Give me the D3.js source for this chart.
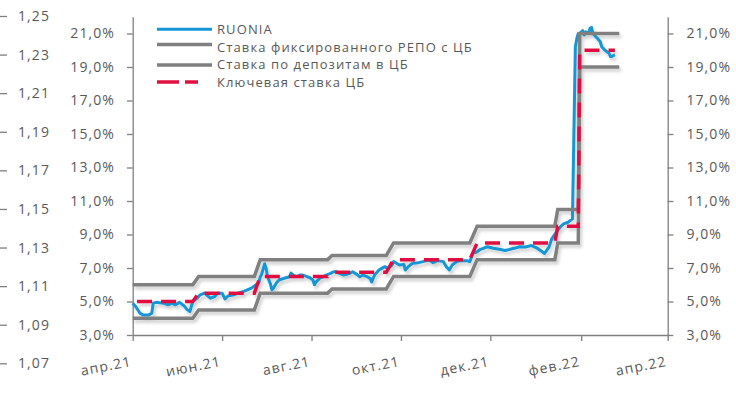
<!DOCTYPE html>
<html>
<head>
<meta charset="utf-8">
<script src="https://cdn.jsdelivr.net/npm/d3@7"></script>
<style>
  body { margin: 0; background: #fff; }
  svg text { font-family: "Open Sans", sans-serif; fill: #595959; }
</style>
</head>
<body>
<svg id="chart" width="736" height="409"></svg>
<script>
// ---- data ----
const ruoniaDates = ['2021-04-01','2021-04-03','2021-04-06','2021-04-08','2021-04-12','2021-04-14','2021-04-15','2021-04-17','2021-04-22','2021-04-25',
  '2021-04-28','2021-04-30','2021-05-03','2021-05-06','2021-05-08','2021-05-10','2021-05-11','2021-05-12','2021-05-15','2021-05-17',
  '2021-05-20','2021-05-24','2021-05-27','2021-05-29','2021-06-01','2021-06-03','2021-06-05','2021-06-09','2021-06-12','2021-06-15',
  '2021-06-19','2021-06-21','2021-06-23','2021-06-26','2021-06-27','2021-06-28','2021-06-29','2021-06-30','2021-07-01','2021-07-02',
  '2021-07-04','2021-07-05','2021-07-06','2021-07-08','2021-07-10','2021-07-14','2021-07-17','2021-07-18','2021-07-20','2021-07-22',
  '2021-07-24','2021-07-26','2021-07-29','2021-07-31','2021-08-02','2021-08-03','2021-08-04','2021-08-07','2021-08-09','2021-08-11',
  '2021-08-14','2021-08-16','2021-08-18','2021-08-20','2021-08-23','2021-08-25','2021-08-27','2021-08-29','2021-09-01','2021-09-03',
  '2021-09-05','2021-09-08','2021-09-10','2021-09-11','2021-09-13','2021-09-16','2021-09-18','2021-09-20','2021-09-22','2021-09-25',
  '2021-09-26','2021-09-28','2021-09-30','2021-10-03','2021-10-04','2021-10-06','2021-10-09','2021-10-13','2021-10-16','2021-10-20',
  '2021-10-23','2021-10-26','2021-10-30','2021-11-01','2021-11-03','2021-11-05','2021-11-08','2021-11-11','2021-11-15','2021-11-17',
  '2021-11-19','2021-11-22','2021-11-24','2021-11-29','2021-12-03','2021-12-08','2021-12-11','2021-12-14','2021-12-18','2021-12-21',
  '2021-12-25','2021-12-29','2022-01-02','2022-01-05','2022-01-07','2022-01-10','2022-01-12','2022-01-15','2022-01-18','2022-01-20',
  '2022-01-23','2022-01-26','2022-01-27','2022-01-28','2022-01-29','2022-01-30','2022-01-31','2022-02-02','2022-02-03','2022-02-04',
  '2022-02-06','2022-02-07','2022-02-08','2022-02-09','2022-02-11','2022-02-12','2022-02-14','2022-02-15','2022-02-17','2022-02-20',
  '2022-02-21','2022-02-24'];
const ruoniaValues = [4.9,4.7,4.3,4.2,4.2,4.3,4.9,4.95,4.9,4.8,
  4.9,4.8,4.95,4.75,4.53,4.4,4.7,5.0,5.2,5.4,
  5.5,5.2,5.3,5.5,5.5,5.15,5.33,5.4,5.5,5.58,
  5.73,5.8,5.93,6.12,6.45,6.64,6.94,7.25,6.98,6.48,
  6.04,5.7,5.79,6.1,6.3,6.4,6.48,6.7,6.55,6.48,
  6.58,6.58,6.48,6.42,6.28,6.0,6.16,6.42,6.48,6.58,
  6.68,6.78,6.78,6.68,6.58,6.62,6.68,6.78,6.62,6.48,
  6.58,6.48,6.38,6.16,6.58,6.88,6.98,7.08,6.98,7.18,
  7.38,7.28,7.18,7.21,6.88,7.08,7.28,7.32,7.38,7.48,
  7.32,7.44,7.38,7.08,6.88,7.18,7.38,7.44,7.44,7.38,
  7.88,7.97,8.1,8.27,8.18,8.1,8.05,8.1,8.19,8.27,
  8.25,8.34,8.18,8.0,7.87,8.25,8.76,9.15,9.48,9.63,
  9.73,9.93,15.0,20.2,20.7,21.0,21.0,21.17,20.91,21.1,
  21.0,21.3,21.37,21.0,20.81,20.71,20.51,20.21,20.01,19.82,
  19.61,19.72];

// policy rate steps: last day of old level -> first day of new level
const stepFrom = ['2021-05-12','2021-06-23','2021-08-12','2021-09-21','2021-11-17','2022-01-14','2022-01-30'];
const stepTo   = ['2021-05-16','2021-06-27','2021-08-15','2021-09-26','2021-11-22','2022-01-16','2022-01-31'];
const repoRates    = [6.0, 6.5, 7.5, 7.75, 8.5, 9.5, 10.5, 21.0];
const depositRates = [4.0, 4.5, 5.5, 5.75, 6.5, 7.5, 8.5, 19.0];
const keyRates     = [5.0, 5.5, 6.5, 6.75, 7.5, 8.5, 9.5, 20.0];
const corridorStart = '2021-04-01', corridorEnd = '2022-02-27';
const keyStart = '2021-04-04', keyEnd = '2022-02-24';

const monthsRu = ['янв','фев','мар','апр','май','июн','июл','авг','сен','окт','ноя','дек'];
const xTicks = ['2021-04-01','2021-06-01','2021-08-01','2021-10-01','2021-12-01','2022-02-01','2022-04-01'];
const yTicks = [3,5,7,9,11,13,15,17,19,21];
const farTicks = [1.07,1.09,1.11,1.13,1.15,1.17,1.19,1.21,1.23,1.25];

const legendNames = ['RUONIA','Ставка фиксированного РЕПО с ЦБ','Ставка по депозитам в ЦБ','Ключевая  ставка ЦБ'];
const colors = { ruonia: '#1696d4', grey: '#808080', key: '#e0103f' };

// ---- setup ----
const parse = d3.timeParse('%Y-%m-%d');
const svg = d3.select('#chart');

const x = d3.scaleTime()
  .domain([parse('2021-04-01'), parse('2022-04-01')])
  .range([132.7, 667.7]);
const y = d3.scaleLinear().domain([3, 22]).range([335, 16.75]);
const yFar = d3.scaleLinear().domain([1.07, 1.25]).range([363.3, 16]);

const pct = d => d3.format('.1f')(d).replace('.', ',') + '%';

const defs = svg.append('defs');
const f = defs.append('filter').attr('id', 'shadow')
  .attr('x', '-5%').attr('y', '-20%').attr('width', '115%').attr('height', '150%');
f.append('feDropShadow').attr('dx', 2).attr('dy', 3).attr('stdDeviation', 1.8)
  .attr('flood-color', '#000').attr('flood-opacity', 0.18);

// leftover axis at far left
const farAxis = svg.append('g')
  .call(d3.axisRight(yFar).tickValues(farTicks).tickSize(7).tickPadding(11)
    .tickFormat(d => d3.format('.2f')(d).replace('.', ',')));
farAxis.select('.domain').remove();

function styleAxis(g) {
  g.select('.domain').attr('stroke', '#7f7f7f').attr('stroke-width', 1.3);
  g.selectAll('.tick line').attr('stroke', '#7f7f7f').attr('stroke-width', 1.3);
  g.selectAll('text').style('font-size', '14px').style('letter-spacing', '1.1px').attr('fill', '#595959');
}
styleAxis(farAxis);

// y axes
const yLeft = svg.append('g').attr('transform', 'translate(132.7,0)')
  .call(d3.axisLeft(y).tickValues(yTicks).tickSize(5.7).tickSizeOuter(0).tickPadding(12).tickFormat(pct));
styleAxis(yLeft);
const yRight = svg.append('g').attr('transform', 'translate(667.7,0)')
  .call(d3.axisRight(y).tickValues(yTicks).tickSize(5.7).tickSizeOuter(0).tickPadding(13).tickFormat(pct));
styleAxis(yRight);

// x axis
const xAxis = svg.append('g').attr('transform', 'translate(0,335)')
  .call(d3.axisBottom(x).tickValues(xTicks.map(parse)).tickSize(6).tickSizeOuter(0)
    .tickFormat(d => monthsRu[d.getMonth()] + '.' + d3.timeFormat('%y')(d)));
styleAxis(xAxis);
xAxis.selectAll('text')
  .attr('text-anchor', 'end').attr('dy', 0)
  .attr('x', -6.9).attr('y', 30.2)
  .attr('transform', 'rotate(-11)');

// series
function stepSeries(rates, start, end) {
  const pts = [[parse(start), rates[0]]];
  stepFrom.forEach((d, i) => {
    pts.push([parse(d), rates[i]]);
    pts.push([parse(stepTo[i]), rates[i + 1]]);
  });
  pts.push([parse(end), rates[rates.length - 1]]);
  return pts;
}
const line = d3.line().x(d => x(d[0])).y(d => y(d[1]));
const plot = svg.append('g').attr('filter', 'url(#shadow)').attr('fill', 'none');

const ruonia = ruoniaDates.map((d, i) => [parse(d), ruoniaValues[i]]);
plot.append('path').datum(ruonia).attr('d', line)
  .attr('stroke', colors.ruonia).attr('stroke-width', 3).attr('stroke-linejoin', 'round');
plot.append('path').datum(stepSeries(repoRates, corridorStart, corridorEnd)).attr('d', line)
  .attr('stroke', colors.grey).attr('stroke-width', 3.5);
plot.append('path').datum(stepSeries(depositRates, corridorStart, corridorEnd)).attr('d', line)
  .attr('stroke', colors.grey).attr('stroke-width', 3.5);
plot.append('path').datum(stepSeries(keyRates, keyStart, keyEnd)).attr('d', line)
  .attr('stroke', colors.key).attr('stroke-width', 3.5).attr('stroke-dasharray', '15,9');

// legend
const legendY = [29.3, 44.5, 65, 82];
const legendTextY = [29.3, 47, 64.7, 82.4];
const legendStyle = [
  { c: colors.ruonia, w: 3, dash: null },
  { c: colors.grey, w: 3.5, dash: null },
  { c: colors.grey, w: 3.5, dash: null },
  { c: colors.key, w: 3.5, dash: '22,6' }
];
const legend = svg.append('g');
legendNames.forEach((name, i) => {
  const s = legendStyle[i];
  legend.append('line')
    .attr('x1', 157).attr('x2', i === 3 ? 198 : 212)
    .attr('y1', legendY[i]).attr('y2', legendY[i])
    .attr('stroke', s.c).attr('stroke-width', s.w)
    .attr('stroke-dasharray', s.dash);
  legend.append('text')
    .attr('x', 217).attr('y', legendTextY[i]).attr('dy', '0.35em')
    .style('font-size', '13px').style('letter-spacing', '1.1px')
    .text(name);
});
</script>
</body>
</html>
